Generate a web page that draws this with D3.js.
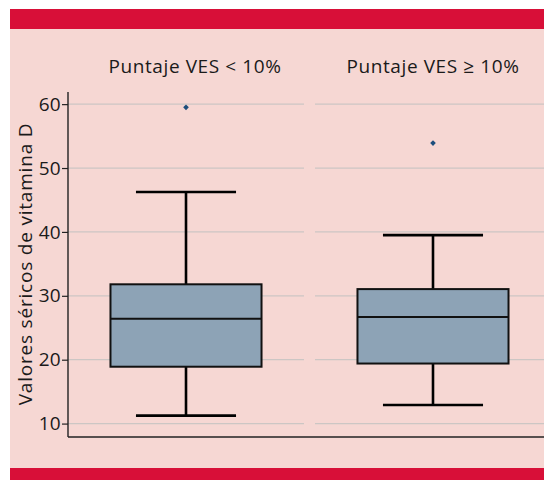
<!DOCTYPE html>
<html>
<head>
<meta charset="utf-8">
<script src="https://cdn.jsdelivr.net/npm/d3@7"></script>
<style>
  html, body { margin: 0; padding: 0; background: #ffffff; }
  svg { display: block; }
  text { font-family: "Open Sans", "Lato", sans-serif; fill: #1a1a1a; }
</style>
</head>
<body>
<svg id="chart" width="544" height="480"></svg>
<script>
// Groups (panel titles)
const groups = ["Puntaje VES < 10%", "Puntaje VES \u2265 10%"];
// Box-plot summaries per group
const lowerWhisker = [11.25, 12.9];
const q1 = [18.9, 19.4];
const median = [26.4, 26.7];
const q3 = [31.8, 31.05];
const upperWhisker = [46.25, 39.5];
// Outliers per group
const outliers = [[59.5], [53.9]];
// Y axis ticks and title
const yTicks = [10, 20, 30, 40, 50, 60];
const yTitle = "Valores séricos de vitamina D";

const svg = d3.select("#chart");
const W = 544, H = 480;

// Page frame: pink panel with red bands top and bottom
svg.append("rect").attr("x", 10).attr("y", 9).attr("width", W - 10).attr("height", H - 9).attr("fill", "#f6d7d3");
svg.append("rect").attr("x", 10).attr("y", 9).attr("width", W - 10).attr("height", 20).attr("fill", "#d80f38");
svg.append("rect").attr("x", 10).attr("y", 468).attr("width", W - 10).attr("height", 12).attr("fill", "#d80f38");

const axisX = 68, axisTop = 92, axisBottom = 437;

const y = d3.scaleLinear().domain([7.9, 61.9]).range([axisBottom, axisTop]);
const x = d3.scaleBand().domain(groups).range([axisX, 551]).paddingInner(0.0445).paddingOuter(0);

const bw = x.bandwidth();
const boxW = bw * 0.64;
const capW = bw * 0.424;

// Grid lines per panel
const panels = svg.append("g").selectAll("g").data(groups).join("g");
panels.each(function(g) {
  const gp = d3.select(this);
  gp.selectAll("line.grid").data(yTicks).join("line")
    .attr("class", "grid")
    .attr("x1", x(g)).attr("x2", x(g) + bw)
    .attr("y1", d => y(d)).attr("y2", d => y(d))
    .attr("stroke", "#ccc6c4").attr("stroke-width", 1.2);
});

// Panel titles
const titleShift = [9, 0];
svg.append("g").selectAll("text").data(groups).join("text")
  .attr("x", (d, i) => x(d) + bw / 2 + titleShift[i])
  .attr("y", 73)
  .attr("text-anchor", "middle")
  .attr("font-size", 19)
  .attr("letter-spacing", 0.6)
  .text(d => d);

// Boxes
groups.forEach((g, i) => {
  const cx = x(g) + bw / 2;
  const gg = svg.append("g");
  // whisker stems
  gg.append("line").attr("x1", cx).attr("x2", cx).attr("y1", y(q3[i])).attr("y2", y(upperWhisker[i]))
    .attr("stroke", "#000").attr("stroke-width", 2.6);
  gg.append("line").attr("x1", cx).attr("x2", cx).attr("y1", y(q1[i])).attr("y2", y(lowerWhisker[i]))
    .attr("stroke", "#000").attr("stroke-width", 2.6);
  // caps
  [upperWhisker[i], lowerWhisker[i]].forEach(v => {
    gg.append("line").attr("x1", cx - capW / 2).attr("x2", cx + capW / 2).attr("y1", y(v)).attr("y2", y(v))
      .attr("stroke", "#000").attr("stroke-width", 2.6);
  });
  // box
  gg.append("rect").attr("x", cx - boxW / 2).attr("width", boxW)
    .attr("y", y(q3[i])).attr("height", y(q1[i]) - y(q3[i]))
    .attr("fill", "#8da3b6").attr("stroke", "#111").attr("stroke-width", 2);
  // median
  gg.append("line").attr("x1", cx - boxW / 2).attr("x2", cx + boxW / 2).attr("y1", y(median[i])).attr("y2", y(median[i]))
    .attr("stroke", "#111").attr("stroke-width", 2);
  // outliers: small square turned 45°
  gg.selectAll("path").data(outliers[i]).join("path")
    .attr("d", d3.symbol(d3.symbolSquare, 16))
    .attr("transform", d => `translate(${cx},${y(d)}) rotate(45)`)
    .attr("fill", "#1d4e7c");
});

// Y axis
const yAxis = svg.append("g").attr("transform", `translate(${axisX},0)`)
  .call(d3.axisLeft(y).tickValues(yTicks).tickSize(6).tickPadding(1).tickSizeOuter(0));
yAxis.select(".domain").remove();
yAxis.selectAll(".tick line").attr("stroke", "#222").attr("stroke-width", 1.2);
yAxis.selectAll(".tick text").attr("font-size", 19).attr("letter-spacing", 0.3)
  .attr("font-family", "\"Open Sans\", sans-serif").attr("fill", "#1a1a1a");

// Axis lines
svg.append("line").attr("x1", axisX).attr("x2", axisX).attr("y1", axisTop).attr("y2", axisBottom)
  .attr("stroke", "#222").attr("stroke-width", 1.4);
svg.append("line").attr("x1", axisX).attr("x2", W).attr("y1", axisBottom).attr("y2", axisBottom)
  .attr("stroke", "#222").attr("stroke-width", 1.4);

// Y title
svg.append("text")
  .attr("transform", `translate(32,264) rotate(-90)`)
  .attr("text-anchor", "middle")
  .attr("font-size", 19)
  .attr("letter-spacing", 0.8)
  .text(yTitle);
</script>
</body>
</html>
